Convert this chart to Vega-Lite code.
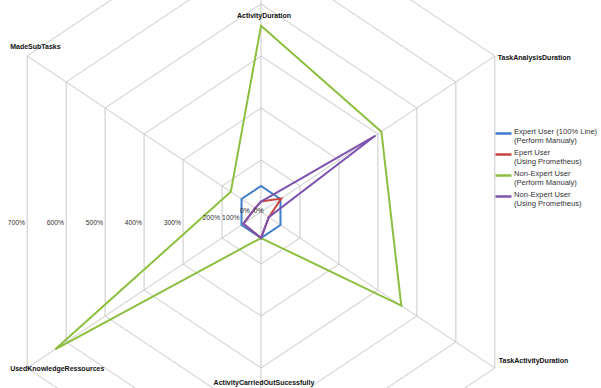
{
  "$schema": "https://vega.github.io/schema/vega-lite/v6.json",
  "width": 601,
  "height": 388,
  "autosize": {"type": "none"},
  "padding": 0,
  "background": "white",
  "config": {"view": {"stroke": null}},
  "datasets": {
    "series": [
      {"series": "Expert User (100% Line)|(Perform Manualy)", "axis": "ActivityDuration", "value": 100},
      {"series": "Expert User (100% Line)|(Perform Manualy)", "axis": "TaskAnalysisDuration", "value": 100},
      {"series": "Expert User (100% Line)|(Perform Manualy)", "axis": "TaskActivityDuration", "value": 100},
      {"series": "Expert User (100% Line)|(Perform Manualy)", "axis": "ActivityCarriedOutSucessfully", "value": 100},
      {"series": "Expert User (100% Line)|(Perform Manualy)", "axis": "UsedKnowledgeRessources", "value": 100},
      {"series": "Expert User (100% Line)|(Perform Manualy)", "axis": "MadeSubTasks", "value": 100},
      {"series": "Epert User|(Using Prometheus)", "axis": "ActivityDuration", "value": 40},
      {"series": "Epert User|(Using Prometheus)", "axis": "TaskAnalysisDuration", "value": 104},
      {"series": "Epert User|(Using Prometheus)", "axis": "TaskActivityDuration", "value": 40},
      {"series": "Epert User|(Using Prometheus)", "axis": "ActivityCarriedOutSucessfully", "value": 100},
      {"series": "Epert User|(Using Prometheus)", "axis": "UsedKnowledgeRessources", "value": 90},
      {"series": "Epert User|(Using Prometheus)", "axis": "MadeSubTasks", "value": 30},
      {"series": "Non-Expert User|(Perform Manualy)", "axis": "ActivityDuration", "value": 458},
      {"series": "Non-Expert User|(Perform Manualy)", "axis": "TaskAnalysisDuration", "value": 409},
      {"series": "Non-Expert User|(Perform Manualy)", "axis": "TaskActivityDuration", "value": 460},
      {"series": "Non-Expert User|(Perform Manualy)", "axis": "ActivityCarriedOutSucessfully", "value": 100},
      {"series": "Non-Expert User|(Perform Manualy)", "axis": "UsedKnowledgeRessources", "value": 628},
      {"series": "Non-Expert User|(Perform Manualy)", "axis": "MadeSubTasks", "value": 155},
      {"series": "Non-Expert User|(Using Prometheus)", "axis": "ActivityDuration", "value": 40},
      {"series": "Non-Expert User|(Using Prometheus)", "axis": "TaskAnalysisDuration", "value": 394},
      {"series": "Non-Expert User|(Using Prometheus)", "axis": "TaskActivityDuration", "value": 40},
      {"series": "Non-Expert User|(Using Prometheus)", "axis": "ActivityCarriedOutSucessfully", "value": 100},
      {"series": "Non-Expert User|(Using Prometheus)", "axis": "UsedKnowledgeRessources", "value": 90},
      {"series": "Non-Expert User|(Using Prometheus)", "axis": "MadeSubTasks", "value": 30}
    ],
    "grid": [
      {"value": 100, "axis": ["ActivityDuration", "TaskAnalysisDuration", "TaskActivityDuration", "ActivityCarriedOutSucessfully", "UsedKnowledgeRessources", "MadeSubTasks"]},
      {"value": 200, "axis": ["ActivityDuration", "TaskAnalysisDuration", "TaskActivityDuration", "ActivityCarriedOutSucessfully", "UsedKnowledgeRessources", "MadeSubTasks"]},
      {"value": 300, "axis": ["ActivityDuration", "TaskAnalysisDuration", "TaskActivityDuration", "ActivityCarriedOutSucessfully", "UsedKnowledgeRessources", "MadeSubTasks"]},
      {"value": 400, "axis": ["ActivityDuration", "TaskAnalysisDuration", "TaskActivityDuration", "ActivityCarriedOutSucessfully", "UsedKnowledgeRessources", "MadeSubTasks"]},
      {"value": 500, "axis": ["ActivityDuration", "TaskAnalysisDuration", "TaskActivityDuration", "ActivityCarriedOutSucessfully", "UsedKnowledgeRessources", "MadeSubTasks"]},
      {"value": 600, "axis": ["ActivityDuration", "TaskAnalysisDuration", "TaskActivityDuration", "ActivityCarriedOutSucessfully", "UsedKnowledgeRessources", "MadeSubTasks"]},
      {"value": 700, "axis": ["ActivityDuration", "TaskAnalysisDuration", "TaskActivityDuration", "ActivityCarriedOutSucessfully", "UsedKnowledgeRessources", "MadeSubTasks"]}
    ],
    "axes": [
      {"axis": "ActivityDuration", "value": 700},
      {"axis": "TaskAnalysisDuration", "value": 700},
      {"axis": "TaskActivityDuration", "value": 700},
      {"axis": "ActivityCarriedOutSucessfully", "value": 700},
      {"axis": "UsedKnowledgeRessources", "value": 700},
      {"axis": "MadeSubTasks", "value": 700}
    ],
    "ticks": [
      {"tick": "700%", "value": 700, "group": "outer"},
      {"tick": "600%", "value": 600, "group": "outer"},
      {"tick": "500%", "value": 500, "group": "outer"},
      {"tick": "400%", "value": 400, "group": "outer"},
      {"tick": "300%", "value": 300, "group": "outer"},
      {"tick": "200%", "value": 200, "group": "mid"},
      {"tick": "100%", "value": 100, "group": "mid"},
      {"tick": "0%", "value": 70, "group": "inner"},
      {"tick": "0%", "value": 0, "group": "inner"}
    ]
  },
  "layer": [
    {
      "data": {"name": "grid"},
      "transform": [
        {"flatten": ["axis"]},
        {"calculate": "indexof(['ActivityDuration','TaskAnalysisDuration','TaskActivityDuration','ActivityCarriedOutSucessfully','UsedKnowledgeRessources','MadeSubTasks'], datum.axis)", "as": "i"},
        {"calculate": "datum.value <= 200 ? datum.value / 200 : datum.value / 100 - 1", "as": "k"},
        {"calculate": "datum.k * cos(PI / 2 - datum.i * PI / 3)", "as": "px"},
        {"calculate": "datum.k * sin(PI / 2 - datum.i * PI / 3)", "as": "py"}
      ],
      "mark": {"type": "line", "interpolate": "linear-closed", "color": "#c9c9c9", "strokeWidth": 1, "clip": true},
      "encoding": {
        "x": {"field": "px", "type": "quantitative", "scale": {"domain": [-5.8, 7.5556], "nice": false, "zero": false}, "axis": null},
        "y": {"field": "py", "type": "quantitative", "scale": {"domain": [-3.3846, 4.0769], "nice": false, "zero": false}, "axis": null},
        "detail": {"field": "value", "type": "nominal"},
        "order": {"field": "i", "type": "quantitative"}
      }
    },
    {
      "data": {"name": "axes"},
      "transform": [
        {"calculate": "indexof(['ActivityDuration','TaskAnalysisDuration','TaskActivityDuration','ActivityCarriedOutSucessfully','UsedKnowledgeRessources','MadeSubTasks'], datum.axis)", "as": "i"},
        {"calculate": "datum.value <= 200 ? datum.value / 200 : datum.value / 100 - 1", "as": "k"},
        {"calculate": "datum.k * cos(PI / 2 - datum.i * PI / 3)", "as": "px"},
        {"calculate": "datum.k * sin(PI / 2 - datum.i * PI / 3)", "as": "py"}
      ],
      "mark": {"type": "rule", "color": "#c9c9c9", "strokeWidth": 1, "clip": true},
      "encoding": {
        "x": {"field": "px", "type": "quantitative", "scale": {"domain": [-5.8, 7.5556], "nice": false, "zero": false}, "axis": null},
        "y": {"field": "py", "type": "quantitative", "scale": {"domain": [-3.3846, 4.0769], "nice": false, "zero": false}, "axis": null},
        "x2": {"datum": 0},
        "y2": {"datum": 0}
      }
    },
    {
      "data": {"name": "series"},
      "transform": [
        {"calculate": "indexof(['ActivityDuration','TaskAnalysisDuration','TaskActivityDuration','ActivityCarriedOutSucessfully','UsedKnowledgeRessources','MadeSubTasks'], datum.axis)", "as": "i"},
        {"calculate": "datum.value <= 200 ? datum.value / 200 : datum.value / 100 - 1", "as": "k"},
        {"calculate": "datum.k * cos(PI / 2 - datum.i * PI / 3)", "as": "px"},
        {"calculate": "datum.k * sin(PI / 2 - datum.i * PI / 3)", "as": "py"}
      ],
      "mark": {"type": "line", "interpolate": "linear-closed", "strokeWidth": 2, "clip": true},
      "encoding": {
        "x": {"field": "px", "type": "quantitative", "scale": {"domain": [-5.8, 7.5556], "nice": false, "zero": false}, "axis": null},
        "y": {"field": "py", "type": "quantitative", "scale": {"domain": [-3.3846, 4.0769], "nice": false, "zero": false}, "axis": null},
        "order": {"field": "i", "type": "quantitative"},
        "color": {
          "field": "series",
          "type": "nominal",
          "scale": {
            "domain": ["Expert User (100% Line)|(Perform Manualy)", "Epert User|(Using Prometheus)", "Non-Expert User|(Perform Manualy)", "Non-Expert User|(Using Prometheus)"],
            "range": ["#3D7CC9", "#C8463F", "#8CBF3F", "#7E53B0"]
          },
          "legend": {
            "title": null,
            "orient": "none",
            "legendX": 494,
            "legendY": 124,
            "padding": 0,
            "symbolType": "stroke",
            "symbolSize": 256,
            "symbolStrokeWidth": 2.5,
            "labelFont": "Liberation Sans",
            "labelFontSize": 7.6,
            "labelColor": "#333333",
            "labelExpr": "split(datum.label, '|')",
            "labelBaseline": "alphabetic",
            "labelOffset": 1,
            "labelLimit": 200,
            "rowPadding": -2
          }
        }
      }
    },
    {
      "data": {"name": "ticks"},
      "transform": [
        {"filter": "datum.group == 'outer'"},
        {"calculate": "datum.value <= 200 ? datum.value / 200 : datum.value / 100 - 1", "as": "k"},
        {"calculate": "-datum.k * cos(PI / 6)", "as": "px"},
        {"calculate": "0", "as": "py"}
      ],
      "mark": {"type": "text", "align": "right", "baseline": "middle", "dx": -2, "dy": 11, "font": "Liberation Sans", "fontSize": 6.8, "color": "#333333"},
      "encoding": {
        "x": {"field": "px", "type": "quantitative", "scale": {"domain": [-5.8, 7.5556], "nice": false, "zero": false}, "axis": null},
        "y": {"field": "py", "type": "quantitative", "scale": {"domain": [-3.3846, 4.0769], "nice": false, "zero": false}, "axis": null},
        "text": {"field": "tick"}
      }
    },
    {
      "data": {"name": "ticks"},
      "transform": [
        {"filter": "datum.group == 'mid'"},
        {"calculate": "datum.value <= 200 ? datum.value / 200 : datum.value / 100 - 1", "as": "k"},
        {"calculate": "-datum.k * cos(PI / 6)", "as": "px"},
        {"calculate": "0", "as": "py"}
      ],
      "mark": {"type": "text", "align": "right", "baseline": "middle", "dx": -2, "dy": 6, "font": "Liberation Sans", "fontSize": 6.8, "color": "#333333"},
      "encoding": {
        "x": {"field": "px", "type": "quantitative", "scale": {"domain": [-5.8, 7.5556], "nice": false, "zero": false}, "axis": null},
        "y": {"field": "py", "type": "quantitative", "scale": {"domain": [-3.3846, 4.0769], "nice": false, "zero": false}, "axis": null},
        "text": {"field": "tick"}
      }
    },
    {
      "data": {"name": "ticks"},
      "transform": [
        {"filter": "datum.group == 'inner'"},
        {"calculate": "datum.value <= 200 ? datum.value / 200 : datum.value / 100 - 1", "as": "k"},
        {"calculate": "-datum.k * cos(PI / 6)", "as": "px"},
        {"calculate": "0", "as": "py"}
      ],
      "mark": {"type": "text", "align": "right", "baseline": "middle", "dx": 2.5, "dy": -1, "font": "Liberation Sans", "fontSize": 6.8, "color": "#222222"},
      "encoding": {
        "x": {"field": "px", "type": "quantitative", "scale": {"domain": [-5.8, 7.5556], "nice": false, "zero": false}, "axis": null},
        "y": {"field": "py", "type": "quantitative", "scale": {"domain": [-3.3846, 4.0769], "nice": false, "zero": false}, "axis": null},
        "text": {"field": "tick"}
      }
    },
    {
      "data": {"name": "axes"},
      "transform": [
        {"filter": "datum.axis == 'ActivityDuration' || datum.axis == 'ActivityCarriedOutSucessfully'"},
        {"calculate": "indexof(['ActivityDuration','TaskAnalysisDuration','TaskActivityDuration','ActivityCarriedOutSucessfully','UsedKnowledgeRessources','MadeSubTasks'], datum.axis)", "as": "i"},
        {"calculate": "datum.value <= 200 ? datum.value / 200 : datum.value / 100 - 1", "as": "k"},
        {"calculate": "datum.k * cos(PI / 2 - datum.i * PI / 3)", "as": "px"},
        {"calculate": "clamp(datum.k * sin(PI / 2 - datum.i * PI / 3), -3.29, 3.77)", "as": "py"}
      ],
      "mark": {"type": "text", "align": "center", "baseline": "middle", "dx": 3, "font": "Liberation Sans", "fontSize": 7, "fontWeight": "bold", "color": "#111111"},
      "encoding": {
        "x": {"field": "px", "type": "quantitative", "scale": {"domain": [-5.8, 7.5556], "nice": false, "zero": false}, "axis": null},
        "y": {"field": "py", "type": "quantitative", "scale": {"domain": [-3.3846, 4.0769], "nice": false, "zero": false}, "axis": null},
        "text": {"field": "axis"}
      }
    },
    {
      "data": {"name": "axes"},
      "transform": [
        {"filter": "datum.axis == 'MadeSubTasks'"},
        {"calculate": "indexof(['ActivityDuration','TaskAnalysisDuration','TaskActivityDuration','ActivityCarriedOutSucessfully','UsedKnowledgeRessources','MadeSubTasks'], datum.axis)", "as": "i"},
        {"calculate": "datum.value <= 200 ? datum.value / 200 : datum.value / 100 - 1", "as": "k"},
        {"calculate": "datum.k * cos(PI / 2 - datum.i * PI / 3)", "as": "px"},
        {"calculate": "datum.k * sin(PI / 2 - datum.i * PI / 3)", "as": "py"}
      ],
      "mark": {"type": "text", "align": "left", "baseline": "middle", "dx": -17, "dy": -9, "font": "Liberation Sans", "fontSize": 7, "fontWeight": "bold", "color": "#111111"},
      "encoding": {
        "x": {"field": "px", "type": "quantitative", "scale": {"domain": [-5.8, 7.5556], "nice": false, "zero": false}, "axis": null},
        "y": {"field": "py", "type": "quantitative", "scale": {"domain": [-3.3846, 4.0769], "nice": false, "zero": false}, "axis": null},
        "text": {"field": "axis"}
      }
    },
    {
      "data": {"name": "axes"},
      "transform": [
        {"filter": "datum.axis == 'UsedKnowledgeRessources'"},
        {"calculate": "indexof(['ActivityDuration','TaskAnalysisDuration','TaskActivityDuration','ActivityCarriedOutSucessfully','UsedKnowledgeRessources','MadeSubTasks'], datum.axis)", "as": "i"},
        {"calculate": "datum.value <= 200 ? datum.value / 200 : datum.value / 100 - 1", "as": "k"},
        {"calculate": "datum.k * cos(PI / 2 - datum.i * PI / 3)", "as": "px"},
        {"calculate": "datum.k * sin(PI / 2 - datum.i * PI / 3)", "as": "py"}
      ],
      "mark": {"type": "text", "align": "left", "baseline": "middle", "dx": -17, "dy": 1, "font": "Liberation Sans", "fontSize": 7, "fontWeight": "bold", "color": "#111111"},
      "encoding": {
        "x": {"field": "px", "type": "quantitative", "scale": {"domain": [-5.8, 7.5556], "nice": false, "zero": false}, "axis": null},
        "y": {"field": "py", "type": "quantitative", "scale": {"domain": [-3.3846, 4.0769], "nice": false, "zero": false}, "axis": null},
        "text": {"field": "axis"}
      }
    },
    {
      "data": {"name": "axes"},
      "transform": [
        {"filter": "datum.axis == 'TaskAnalysisDuration'"},
        {"calculate": "indexof(['ActivityDuration','TaskAnalysisDuration','TaskActivityDuration','ActivityCarriedOutSucessfully','UsedKnowledgeRessources','MadeSubTasks'], datum.axis)", "as": "i"},
        {"calculate": "datum.value <= 200 ? datum.value / 200 : datum.value / 100 - 1", "as": "k"},
        {"calculate": "datum.k * cos(PI / 2 - datum.i * PI / 3)", "as": "px"},
        {"calculate": "datum.k * sin(PI / 2 - datum.i * PI / 3)", "as": "py"}
      ],
      "mark": {"type": "text", "align": "left", "baseline": "middle", "dx": 3, "dy": 2, "font": "Liberation Sans", "fontSize": 7, "fontWeight": "bold", "color": "#111111"},
      "encoding": {
        "x": {"field": "px", "type": "quantitative", "scale": {"domain": [-5.8, 7.5556], "nice": false, "zero": false}, "axis": null},
        "y": {"field": "py", "type": "quantitative", "scale": {"domain": [-3.3846, 4.0769], "nice": false, "zero": false}, "axis": null},
        "text": {"field": "axis"}
      }
    },
    {
      "data": {"name": "axes"},
      "transform": [
        {"filter": "datum.axis == 'TaskActivityDuration'"},
        {"calculate": "indexof(['ActivityDuration','TaskAnalysisDuration','TaskActivityDuration','ActivityCarriedOutSucessfully','UsedKnowledgeRessources','MadeSubTasks'], datum.axis)", "as": "i"},
        {"calculate": "datum.value <= 200 ? datum.value / 200 : datum.value / 100 - 1", "as": "k"},
        {"calculate": "datum.k * cos(PI / 2 - datum.i * PI / 3)", "as": "px"},
        {"calculate": "datum.k * sin(PI / 2 - datum.i * PI / 3)", "as": "py"}
      ],
      "mark": {"type": "text", "align": "left", "baseline": "middle", "dx": 4, "dy": -7, "font": "Liberation Sans", "fontSize": 7, "fontWeight": "bold", "color": "#111111"},
      "encoding": {
        "x": {"field": "px", "type": "quantitative", "scale": {"domain": [-5.8, 7.5556], "nice": false, "zero": false}, "axis": null},
        "y": {"field": "py", "type": "quantitative", "scale": {"domain": [-3.3846, 4.0769], "nice": false, "zero": false}, "axis": null},
        "text": {"field": "axis"}
      }
    }
  ]
}
